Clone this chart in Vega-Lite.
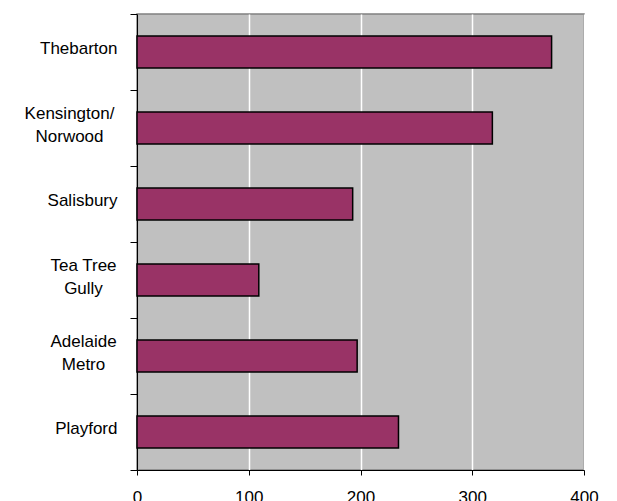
{
  "$schema": "https://vega.github.io/schema/vega-lite/v6.json",
  "autosize": "none",
  "width": 447,
  "height": 456,
  "padding": {"left": 137, "top": 14, "right": 33, "bottom": 31},
  "background": "white",
  "config": {
    "view": {"fill": "#C0C0C0", "stroke": "#808080", "strokeWidth": 1.5},
    "font": "Liberation Sans"
  },
  "data": {
    "values": [
      {"area": "Thebarton", "value": 371},
      {"area": "Kensington/Norwood", "value": 318},
      {"area": "Salisbury", "value": 193},
      {"area": "Tea Tree Gully", "value": 109},
      {"area": "Adelaide Metro", "value": 197},
      {"area": "Playford", "value": 234}
    ]
  },
  "mark": {"type": "bar", "fill": "#993366", "stroke": "black", "strokeWidth": 1.5, "height": {"band": 0.42}},
  "encoding": {
    "y": {
      "field": "area",
      "type": "nominal",
      "sort": null,
      "scale": {"paddingInner": 0, "paddingOuter": 0},
      "axis": {
        "title": null,
        "domainColor": "black",
        "domainWidth": 1.2,
        "tickColor": "black",
        "tickSize": 7,
        "tickBand": "extent",
        "labelFont": "Liberation Sans",
        "labelFontSize": 17,
        "labelColor": "black",
        "labelLineHeight": 23,
        "labelLimit": 200,
        "labelOffset": {"condition": {"test": "datum.value == 'Kensington/Norwood' || datum.value == 'Tea Tree Gully' || datum.value == 'Adelaide Metro'", "value": -15}, "value": -4},
        "labelAlign": {"condition": {"test": "datum.value == 'Kensington/Norwood' || datum.value == 'Tea Tree Gully' || datum.value == 'Adelaide Metro'", "value": "center"}, "value": "right"},
        "labelPadding": {"condition": [{"test": "datum.value == 'Kensington/Norwood'", "value": 61}, {"test": "datum.value == 'Tea Tree Gully' || datum.value == 'Adelaide Metro'", "value": 47}], "value": 13},
        "labelExpr": "datum.value == 'Kensington/Norwood' ? ['Kensington/', 'Norwood'] : datum.value == 'Tea Tree Gully' ? ['Tea Tree', 'Gully'] : datum.value == 'Adelaide Metro' ? ['Adelaide', 'Metro'] : datum.value",
        "grid": false
      }
    },
    "x": {
      "field": "value",
      "type": "quantitative",
      "scale": {"domain": [0, 400], "nice": false},
      "axis": {
        "title": null,
        "values": [0, 100, 200, 300, 400],
        "domainColor": "black",
        "domainWidth": 1.2,
        "tickColor": "black",
        "tickSize": 5,
        "labelFont": "Liberation Sans",
        "labelFontSize": 17,
        "labelColor": "black",
        "labelPadding": 14,
        "labelFlush": false,
        "grid": true,
        "gridColor": "white",
        "gridWidth": 1.5,
        "gridOpacity": 1
      }
    }
  }
}
